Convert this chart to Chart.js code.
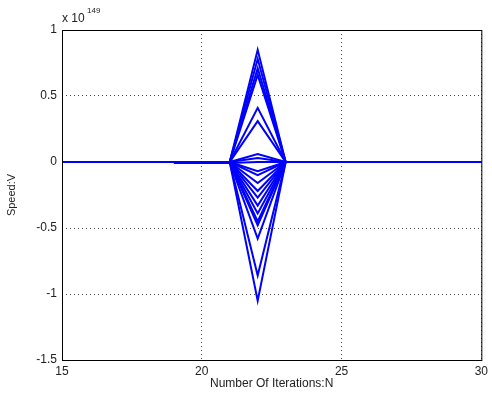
<!DOCTYPE html>
<html>
<head>
<meta charset="utf-8">
<script src="https://cdn.jsdelivr.net/npm/chart.js@4.4.0/dist/chart.umd.min.js"></script>
<style>
  html, body { margin: 0; padding: 0; background: #fff; }
  #wrap { width: 492px; height: 398px; }
</style>
</head>
<body>
<div id="wrap"><canvas id="speedChart" width="492" height="398"></canvas></div>
<script>
"use strict";

// iteration numbers where the traces have points
var iterations = [15, 19, 21, 22, 23, 30];

// speed values (x 10^149), one row per trace
var speedSeries = [
    [0, 0, 0, 0.85, 0, 0],
    [0, 0, 0, 0.78, 0, 0],
    [0, 0, 0, 0.71, 0, 0],
    [0, 0, 0, 0.66, 0, 0],
    [0, 0, 0, 0.41, 0, 0],
    [0, 0, 0, 0.31, 0, 0],
    [0, 0, 0, 0.06, 0, 0],
    [0, 0, 0, 0.03, 0, 0],
    [0, 0, 0, -0.07, 0, 0],
    [0, 0, 0, -0.10, 0, 0],
    [0, 0, 0, -0.16, 0, 0],
    [0, 0, 0, -0.22, 0, 0],
    [0, 0, 0, -0.27, 0, 0],
    [0, 0, 0, -0.33, 0, 0],
    [0, 0, 0, -0.39, 0, 0],
    [0, 0, 0, -0.45, 0, 0],
    [0, 0, 0, -0.48, 0, 0],
    [0, 0, 0, -0.58, 0, 0],
    [0, 0, 0, -0.86, 0, 0],
    [0, 0, 0, -1.05, 0, 0],
    [null, -0.008, -0.008, 0, 0, 0]
];

var xTicks = [15, 20, 25, 30];
var yTicks = [1, 0.5, 0, -0.5, -1, -1.5];

var lineBlue = "#0000ff";
var fontFam = "'Liberation Sans', Arial, sans-serif";

var datasets = speedSeries.map(function (row) {
    return {
        data: row.map(function (v, i) { return { x: iterations[i], y: v }; }),
        borderColor: lineBlue,
        borderWidth: 2,
        pointRadius: 0,
        fill: false,
        spanGaps: false
    };
});

// box around the plot area + exponent label
var boxPlugin = {
    id: "box",
    afterDraw: function (chart) {
        var ctx = chart.ctx, a = chart.chartArea;
        ctx.save();
        ctx.strokeStyle = "#000";
        ctx.lineWidth = 1;
        ctx.strokeRect(a.left + 0.5, a.top + 0.5, a.right - a.left, a.bottom - a.top);
        ctx.fillStyle = "#222";
        ctx.font = "12px " + fontFam;
        ctx.textBaseline = "alphabetic";
        ctx.fillText("x 10", a.left, a.top - 8);
        ctx.font = "8px " + fontFam;
        ctx.fillText("149", a.left + 25, a.top - 17);
        ctx.restore();
    }
};

var SPEEDCHART = document.getElementById("speedChart");
var mySpeedChart = new Chart(SPEEDCHART, {
    type: "line",
    data: { datasets: datasets },
    plugins: [boxPlugin],
    options: {
        responsive: false,
        animation: false,
        layout: { padding: { top: 30, right: 9, left: 5, bottom: 7 } },
        plugins: { legend: { display: false }, tooltip: { enabled: false } },
        scales: {
            x: {
                type: "linear",
                min: 15,
                max: 30,
                afterBuildTicks: function (s) { s.ticks = xTicks.map(function (v) { return { value: v }; }); },
                afterFit: function (s) { s.height = 31; },
                grid: { color: "#444", drawTicks: false, lineWidth: 1 },
                border: { display: false, dash: [1, 3] },
                ticks: { color: "#222", font: { family: fontFam, size: 12 }, padding: 4, maxRotation: 0,
                    callback: function (v) { return String(v); } },
                title: { display: true, text: "Number Of Iterations:N", color: "#222", font: { family: fontFam, size: 12 }, padding: { top: 0, bottom: 0 } }
            },
            y: {
                type: "linear",
                min: -1.5,
                max: 1,
                afterBuildTicks: function (s) { s.ticks = yTicks.map(function (v) { return { value: v }; }); },
                afterFit: function (s) { s.width = 57; },
                grid: { color: "#444", drawTicks: false, lineWidth: 1 },
                border: { display: false, dash: [1, 3] },
                ticks: { color: "#222", font: { family: fontFam, size: 12 }, padding: 5,
                    callback: function (v) { return String(v); } },
                title: { display: true, text: "Speed:V", color: "#222", font: { family: fontFam, size: 11 }, padding: { top: 0, bottom: 4 } }
            }
        }
    }
});
</script>
</body>
</html>
